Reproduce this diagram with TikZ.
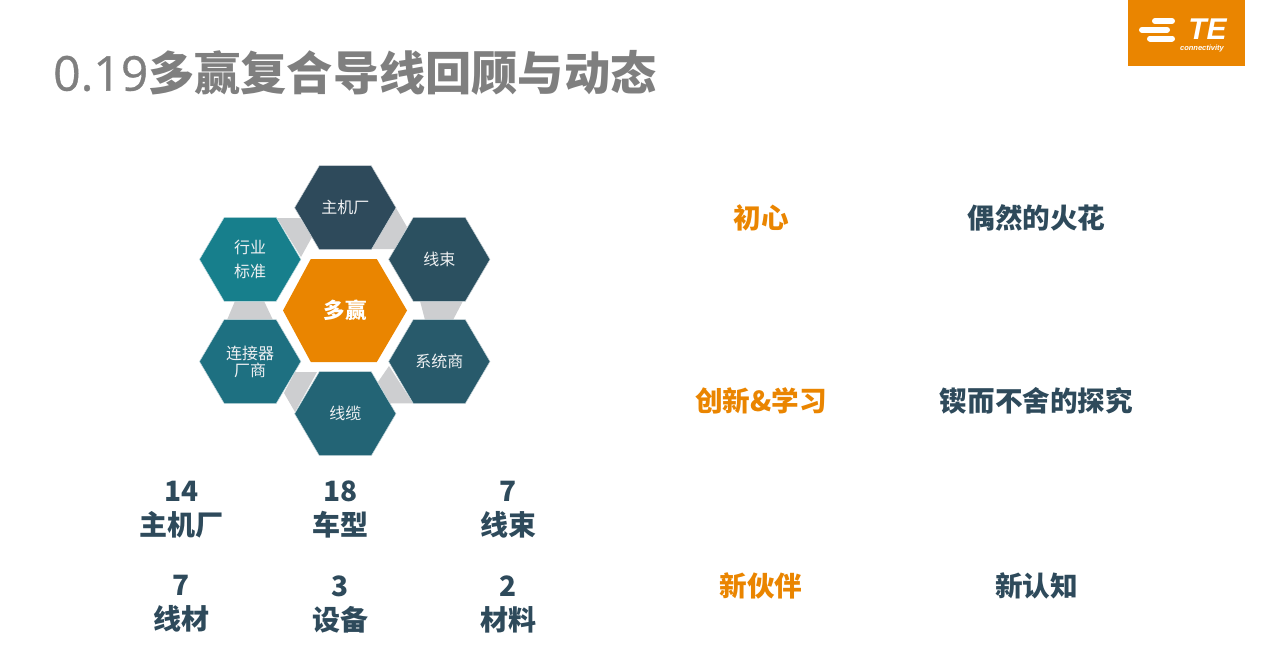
\documentclass[tikz,border=0pt]{standalone}
\usepackage{fontspec}
\setmainfont{Noto Sans CJK SC}
\newfontfamily\digitfont[FakeBold=0.7]{Open Sans}
\newfontfamily\logofont{Liberation Sans}
\definecolor{teorange}{HTML}{EA8500}
\definecolor{slate}{HTML}{2E4A5B}
\definecolor{titlegray}{HTML}{7F7F7F}
\definecolor{linkgray}{HTML}{CDCED0}
\definecolor{cellb}{HTML}{2B5060}
\definecolor{cellc}{HTML}{285A6B}
\definecolor{celld}{HTML}{236475}
\definecolor{celle}{HTML}{1E7081}
\definecolor{cellf}{HTML}{177F8C}
\newcommand{\fsize}[2]{\fontsize{#1}{#2}\selectfont}
% one hexagon cell: centre, fill colour
\newcommand{\hexcell}[2]{
	\fill[#2, draw=white!75!#2, line width=0.5pt] (#1)+(-50.7,0) -- +(-26,-42) -- +(26,-42) -- +(50.7,0) -- +(26,42) -- +(-26,42) -- cycle;
}
\tikzset{
	celltext/.style={text=white!92!slate, inner sep=0pt, align=center, font=\fsize{16}{24}},
	stat/.style={text=slate, inner sep=0pt, align=center, font=\fsize{28}{34}\bfseries},
	topic/.style={text=slate, inner sep=0pt, font=\fsize{27.6}{32}\bfseries},
	hottopic/.style={topic, text=teorange},
	link/.style={fill=linkgray}
}
\begin{document}
\begin{tikzpicture}[x=1pt,y=-1pt]
	\useasboundingbox (0,0) rectangle (1267,670);
	\coordinate (Hub) at (345.3,310.5);
	\coordinate (Oem) at (345.3,207.7);
	\coordinate (Harness) at (439.3,259.4);
	\coordinate (Integrator) at (439.3,361.5);
	\coordinate (Cable) at (345.3,413.7);
	\coordinate (Connector) at (250.2,361.5);
	\coordinate (Standard) at (250.2,259.4);
	% grey links between the cells
	\fill[link] (277,218) -- (300,218) -- (312,237) -- (301,257) -- cycle;
	\fill[link] (396,208) -- (407,227) -- (395,249) -- (372,249) -- cycle;
	\fill[link] (420,301) -- (463,301) -- (453,320) -- (425,320) -- cycle;
	\fill[link] (264,301) -- (273,320) -- (227,320) -- (235,301) -- cycle;
	\fill[link] (317,372) -- (295,412) -- (284,393) -- (295,372) -- cycle;
	\fill[link] (389,366) -- (413,403.3) -- (390,403.3) -- (378,382) -- cycle;
	% cells
	\hexcell{Oem}{slate}
	\hexcell{Harness}{cellb}
	\hexcell{Integrator}{cellc}
	\hexcell{Cable}{celld}
	\hexcell{Connector}{celle}
	\hexcell{Standard}{cellf}
	\fill[teorange] (Hub)+(-62.3,0) -- +(-34.5,-51.5) -- +(31.5,-51.5) -- +(61.7,0) -- +(31.5,51.5) -- +(-34.5,51.5) -- cycle;
	\node[celltext] (oemtext) at (Oem) {主机厂};
	\node[celltext] (harnesstext) at (Harness) {线束};
	\node[celltext] (integratortext) at (Integrator) {系统商};
	\node[celltext] (cabletext) at (Cable) {线缆};
	\node[celltext, font=\fsize{16}{17}] (connectortext) at (Connector) {连接器\\厂商};
	\node[celltext] (standardtext) at (Standard) {行业\\标准};
	\node[celltext, text=white, font=\fsize{21.5}{26}\bfseries] (hubtext) at (Hub) {多赢};
	% title
	\node[anchor=west, inner sep=0pt, text=titlegray, font=\fsize{46.2}{50}] (title) at (53,73) {{\digitfont\fsize{48}{50}0.19}\textbf{多赢复合导线回顾与动态}};
	% logo
	\fill[teorange] (1128,0) rectangle (1245,66);
	\draw[white, line width=6pt, line cap=round] (1155,21) -- (1172,21);
	\draw[white, line width=6pt, line cap=round] (1142,29.7) -- (1167,29.7);
	\draw[white, line width=6pt, line cap=round] (1150,38.5) -- (1172,38.5);
	\node[inner sep=0pt, text=white, font=\logofont\fsize{30}{32}\bfseries\itshape] (logote) at (1207.5,29) {TE};
	\node[inner sep=0pt, text=white, font=\logofont\fsize{7.5}{8}\bfseries\itshape] (logosub) at (1202,48.5) {connectivity};
	% counts
	\node[stat] (oemcount) at (181.5,510) {14\\主机厂};
	\node[stat] (carcount) at (340.5,509.5) {18\\车型};
	\node[stat] (harnesscount) at (508,509.5) {7\\线束};
	\node[stat] (wirecount) at (181.5,604) {7\\线材};
	\node[stat] (toolcount) at (340.5,604) {3\\设备};
	\node[stat] (materialcount) at (508,604) {2\\材料};
	% right hand columns
	\node[hottopic] (origin) at (761,218) {初心};
	\node[topic] (spark) at (1036.5,218) {偶然的火花};
	\node[hottopic] (learn) at (761,401) {创新\&学习};
	\node[topic] (persist) at (1036.5,401) {锲而不舍的探究};
	\node[hottopic] (partner) at (761,586) {新伙伴};
	\node[topic] (insight) at (1036.5,586) {新认知};
\end{tikzpicture}
\end{document}
